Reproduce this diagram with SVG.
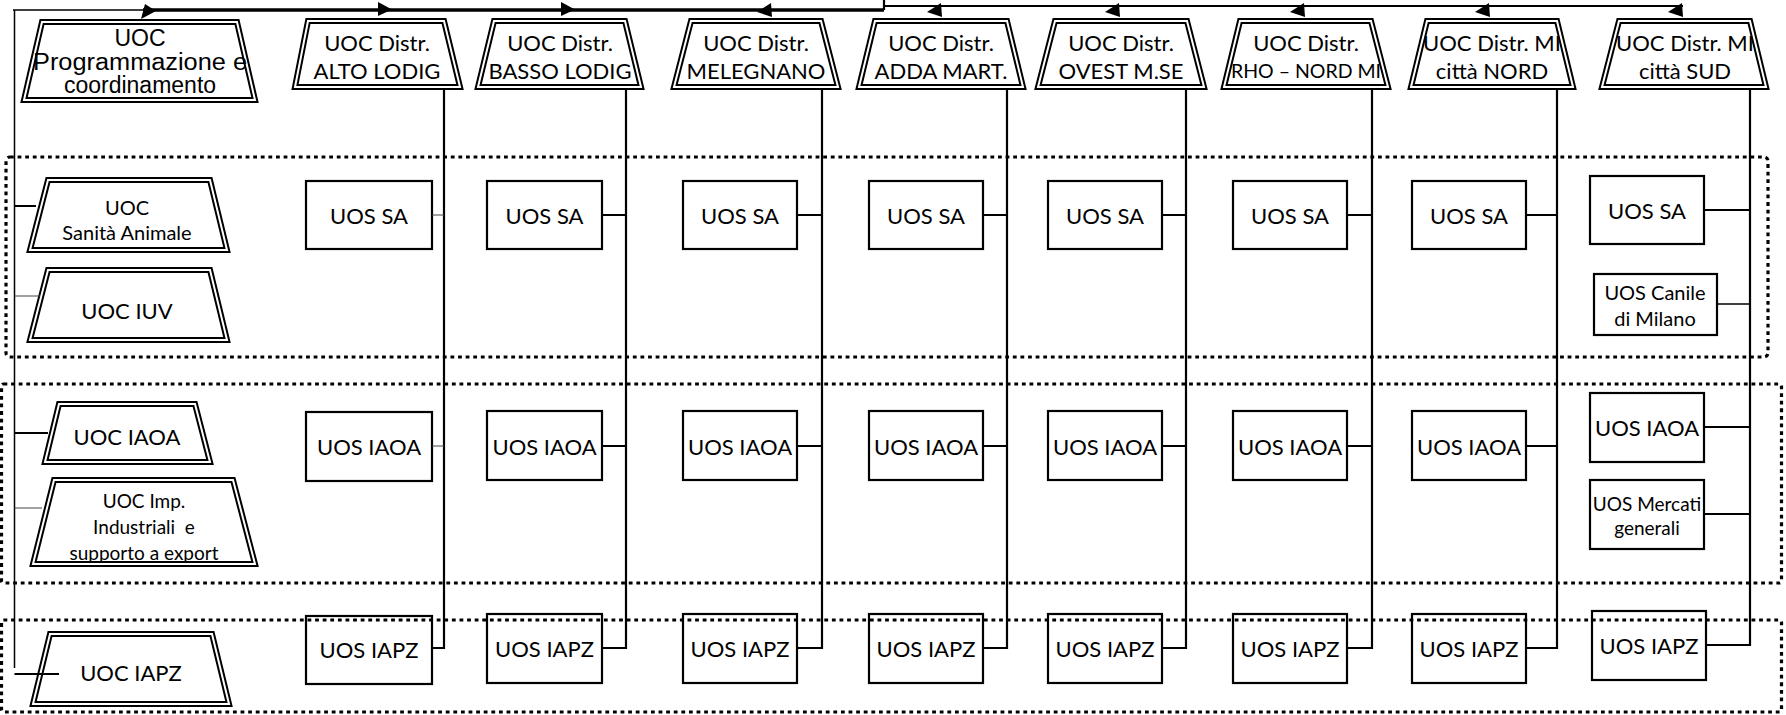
<svg xmlns="http://www.w3.org/2000/svg" width="1786" height="715" viewBox="0 0 1786 715">
<style>
.bg{fill:#fff}
.trap{fill:#fff;stroke:#000;stroke-width:6;stroke-linejoin:miter}
.trapin{fill:none;stroke:#fff;stroke-width:2;stroke-linejoin:miter}
.box{fill:#fff;stroke:#000;stroke-width:2.2}
.t{font-family:Lato,"Open Sans",sans-serif;fill:#000;text-anchor:middle;dominant-baseline:central}
.ta{font-family:"Liberation Sans",Arial,sans-serif;fill:#000;text-anchor:middle;dominant-baseline:central;font-size:23px}
.s22{font-size:22px}
.s20{font-size:20px}
.s19{font-size:19px}
.s195{font-size:19.5px}
.ln{fill:none;stroke:#000;stroke-width:2.2}
.thin{fill:none;stroke:#444;stroke-width:1.1}
.mid{fill:none;stroke:#000;stroke-width:1.5}
.dot{fill:none;stroke:#000;stroke-width:3.2;stroke-dasharray:3.8 3.8}
.ah{fill:#000}
</style>
<defs>
<path id="arL" d="M0,12 L14,3 L15,17 Z"/>
<path id="arR" d="M0,9.5 L-14,2 L-14,16 Z"/>
</defs>
<rect class="bg" x="0" y="0" width="1786" height="715"/>

<g id="n-prog"><polygon class="trap" points="42,22 237,22 255,100 24,100"/><polygon class="trapin" points="42,22 237,22 255,100 24,100"/>
<text class="ta" x="140" y="38">UOC</text><text class="ta" x="140" y="62" textLength="214" lengthAdjust="spacingAndGlyphs">Programmazione e</text><text class="ta" x="140" y="85">coordinamento</text></g>

<g id="n-alto"><polygon class="trap" points="308,21 444,21 460,87 295,87"/><polygon class="trapin" points="308,21 444,21 460,87 295,87"/>
<text class="t s22" x="377" y="42">UOC Distr.</text><text class="t s22" x="377" y="70">ALTO LODIG</text></g>
<g id="n-basso"><polygon class="trap" points="494,21 625,21 641,87 478,87"/><polygon class="trapin" points="494,21 625,21 641,87 478,87"/>
<text class="t s22" x="560" y="42">UOC Distr.</text><text class="t s22" x="560" y="70">BASSO LODIG</text></g>
<g id="n-mel"><polygon class="trap" points="691,21 821,21 838,87 674,87"/><polygon class="trapin" points="691,21 821,21 838,87 674,87"/>
<text class="t s22" x="756" y="42">UOC Distr.</text><text class="t s22" x="756" y="70">MELEGNANO</text></g>
<g id="n-adda"><polygon class="trap" points="875,21 1007,21 1023,87 859,87"/><polygon class="trapin" points="875,21 1007,21 1023,87 859,87"/>
<text class="t s22" x="941" y="42">UOC Distr.</text><text class="t s22" x="941" y="70">ADDA MART.</text></g>
<g id="n-ovest"><polygon class="trap" points="1055,21 1187,21 1204,87 1038,87"/><polygon class="trapin" points="1055,21 1187,21 1204,87 1038,87"/>
<text class="t s22" x="1121" y="42">UOC Distr.</text><text class="t s22" x="1121" y="70">OVEST M.SE</text></g>
<g id="n-rho"><polygon class="trap" points="1240,21 1371,21 1388,87 1224,87"/><polygon class="trapin" points="1240,21 1371,21 1388,87 1224,87"/>
<text class="t s22" x="1306" y="42">UOC Distr.</text><text class="t s195" x="1306" y="70">RHO – NORD MI</text></g>
<g id="n-nord"><polygon class="trap" points="1427,21 1557,21 1573,87 1411,87"/><polygon class="trapin" points="1427,21 1557,21 1573,87 1411,87"/>
<text class="t s22" x="1492" y="42">UOC Distr. MI</text><text class="t s22" x="1492" y="70">città NORD</text></g>
<g id="n-sud"><polygon class="trap" points="1619,21 1750,21 1766,87 1602,87"/><polygon class="trapin" points="1619,21 1750,21 1766,87 1602,87"/>
<text class="t s22" x="1685" y="42">UOC Distr. MI</text><text class="t s22" x="1685" y="70">città SUD</text></g>

<g id="n-sa"><polygon class="trap" points="48,180 210,180 227,250 30,250"/><polygon class="trapin" points="48,180 210,180 227,250 30,250"/>
<text class="t s20" x="127" y="207">UOC</text><text class="t s20" x="127" y="232">Sanità Animale</text></g>
<g id="n-iuv"><polygon class="trap" points="48,270 210,270 227,340 30,340"/><polygon class="trapin" points="48,270 210,270 227,340 30,340"/>
<text class="t s22" x="127" y="310">UOC IUV</text></g>
<g id="n-iaoa"><polygon class="trap" points="59,404 195,404 210,462 45,462"/><polygon class="trapin" points="59,404 195,404 210,462 45,462"/>
<text class="t s22" x="127" y="436">UOC IAOA</text></g>
<g id="n-imp"><polygon class="trap" points="54,480 233,480 255,564 33,564"/><polygon class="trapin" points="54,480 233,480 255,564 33,564"/>
<text class="t s19" x="144" y="500">UOC Imp.</text><text class="t s19" x="144" y="526" xml:space="preserve" style="white-space:pre">Industriali  e</text><text class="t s19" x="144" y="552">supporto a export</text></g>
<g id="n-iapz"><polygon class="trap" points="50,634 212,634 229,704 33,704"/><polygon class="trapin" points="50,634 212,634 229,704 33,704"/>
<text class="t s22" x="131" y="672">UOC IAPZ</text></g>

<g id="n-c1">
<g id="sa1"><rect class="box" x="306" y="181" width="126" height="68"/><text class="t s22" x="369" y="215">UOS SA</text></g>
<g id="iaoa1"><rect class="box" x="306" y="412" width="126" height="69"/><text class="t s22" x="369" y="446">UOS IAOA</text></g>
<g id="iapz1"><rect class="box" x="306" y="616" width="126" height="68"/><text class="t s22" x="369" y="649">UOS IAPZ</text></g>
</g>
<g id="n-c2">
<g id="sa2"><rect class="box" x="487" y="181" width="115" height="68"/><text class="t s22" x="544.5" y="215">UOS SA</text></g>
<g id="iaoa2"><rect class="box" x="487" y="411" width="115" height="69"/><text class="t s22" x="544.5" y="446">UOS IAOA</text></g>
<g id="iapz2"><rect class="box" x="487" y="614" width="115" height="69"/><text class="t s22" x="544.5" y="648">UOS IAPZ</text></g>
</g>
<g id="n-c3">
<g id="sa3"><rect class="box" x="683" y="181" width="114" height="68"/><text class="t s22" x="740" y="215">UOS SA</text></g>
<g id="iaoa3"><rect class="box" x="683" y="411" width="114" height="69"/><text class="t s22" x="740" y="446">UOS IAOA</text></g>
<g id="iapz3"><rect class="box" x="683" y="614" width="114" height="69"/><text class="t s22" x="740" y="648">UOS IAPZ</text></g>
</g>
<g id="n-c4">
<g id="sa4"><rect class="box" x="869" y="181" width="114" height="68"/><text class="t s22" x="926" y="215">UOS SA</text></g>
<g id="iaoa4"><rect class="box" x="869" y="411" width="114" height="69"/><text class="t s22" x="926" y="446">UOS IAOA</text></g>
<g id="iapz4"><rect class="box" x="869" y="614" width="114" height="69"/><text class="t s22" x="926" y="648">UOS IAPZ</text></g>
</g>
<g id="n-c5">
<g id="sa5"><rect class="box" x="1048" y="181" width="114" height="68"/><text class="t s22" x="1105" y="215">UOS SA</text></g>
<g id="iaoa5"><rect class="box" x="1048" y="411" width="114" height="69"/><text class="t s22" x="1105" y="446">UOS IAOA</text></g>
<g id="iapz5"><rect class="box" x="1048" y="614" width="114" height="69"/><text class="t s22" x="1105" y="648">UOS IAPZ</text></g>
</g>
<g id="n-c6">
<g id="sa6"><rect class="box" x="1233" y="181" width="114" height="68"/><text class="t s22" x="1290" y="215">UOS SA</text></g>
<g id="iaoa6"><rect class="box" x="1233" y="411" width="114" height="69"/><text class="t s22" x="1290" y="446">UOS IAOA</text></g>
<g id="iapz6"><rect class="box" x="1233" y="614" width="114" height="69"/><text class="t s22" x="1290" y="648">UOS IAPZ</text></g>
</g>
<g id="n-c7">
<g id="sa7"><rect class="box" x="1412" y="181" width="114" height="68"/><text class="t s22" x="1469" y="215">UOS SA</text></g>
<g id="iaoa7"><rect class="box" x="1412" y="411" width="114" height="69"/><text class="t s22" x="1469" y="446">UOS IAOA</text></g>
<g id="iapz7"><rect class="box" x="1412" y="614" width="114" height="69"/><text class="t s22" x="1469" y="648">UOS IAPZ</text></g>
</g>
<g id="n-c8">
<g id="sa8"><rect class="box" x="1590" y="176" width="114" height="68"/><text class="t s22" x="1647" y="210">UOS SA</text></g>
<g id="canile"><rect class="box" x="1594" y="274" width="123" height="61"/><text class="t s20" x="1655" y="292">UOS Canile</text><text class="t s20" x="1655" y="318">di Milano</text></g>
<g id="iaoa8"><rect class="box" x="1590" y="393" width="114" height="69"/><text class="t s22" x="1647" y="427">UOS IAOA</text></g>
<g id="mercati"><rect class="box" x="1590" y="480" width="114" height="69"/><text class="t s19" x="1647" y="503">UOS Mercati</text><text class="t s19" x="1647" y="527">generali</text></g>
<g id="iapz8"><rect class="box" x="1592" y="611" width="114" height="69"/><text class="t s22" x="1649" y="645">UOS IAPZ</text></g>
</g>

<g id="connectors">
<path class="mid" d="M14.5,10 V668 M13,10 H150"/>
<path class="ln" d="M143,10 H884" style="stroke-width:3.5"/>
<path class="ln" d="M884,0 V10 M884,6 H1683"/>
<g class="ah">
<path d="M141,19 L145,4 L156,11 Z"/>
<use href="#arR" x="392" y="0"/>
<use href="#arR" x="575" y="0"/>
<use href="#arL" x="757" y="0"/>
<use href="#arL" x="927" y="0"/>
<use href="#arL" x="1105" y="0"/>
<use href="#arL" x="1290" y="0"/>
<use href="#arL" x="1475" y="0"/>
<use href="#arL" x="1668" y="0"/>
</g>
<path class="ln" d="M14.5,206 H36 M14.5,433 H48 M14.5,674 H59"/>
<path class="thin" d="M14.5,296 H40 M14.5,508 H42"/>
<path class="ln" d="M444,89 V648 H432"/>
<path class="thin" d="M432,215 H444 M432,446 H444"/>
<path class="ln" d="M626,89 V648 H602 M602,215 H626 M602,446 H626"/>
<path class="ln" d="M822,89 V648 H797 M797,215 H822 M797,446 H822"/>
<path class="ln" d="M1007,89 V648 H983 M983,215 H1007 M983,446 H1007"/>
<path class="ln" d="M1186,89 V648 H1162 M1162,215 H1186 M1162,446 H1186"/>
<path class="ln" d="M1372,89 V648 H1347 M1347,215 H1372 M1347,446 H1372"/>
<path class="ln" d="M1557,89 V648 H1526 M1526,215 H1557 M1526,446 H1557"/>
<path class="ln" d="M1750,89 V645 H1706 M1704,210 H1750 M1704,427 H1750 M1704,514 H1750"/>
<path class="mid" d="M1717,304 H1750"/>
</g>

<g id="sections">
<rect class="dot" x="6" y="157" width="1762" height="200" rx="4"/>
<rect class="dot" x="1.5" y="384" width="1780" height="199" rx="2"/>
<rect class="dot" x="1.5" y="620" width="1780" height="92" rx="2"/>
</g>
</svg>
